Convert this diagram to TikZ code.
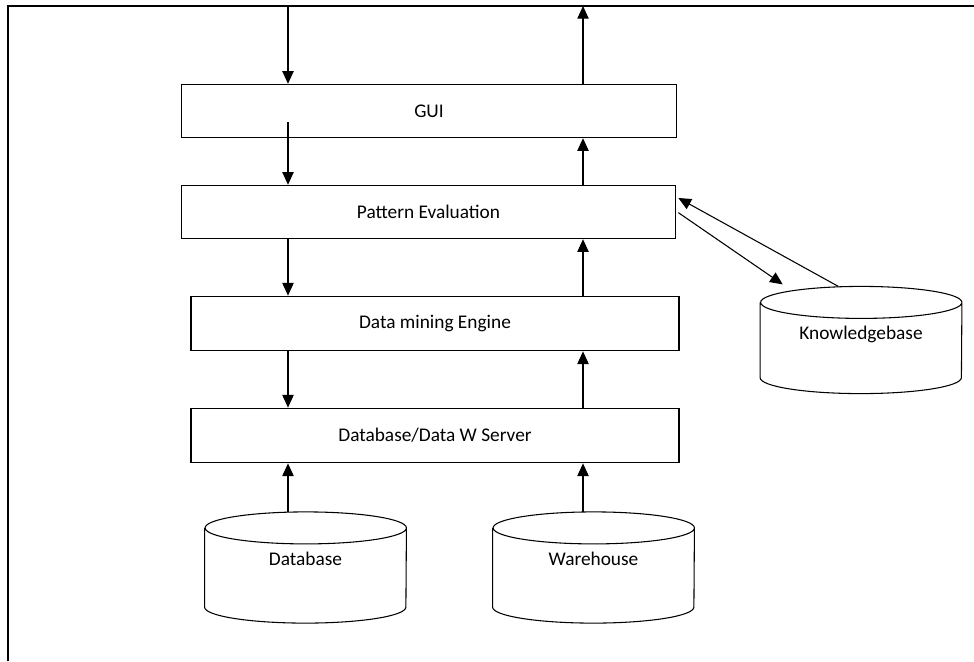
\documentclass[tikz,border=0pt]{standalone}
\usepackage{fontspec}
\setmainfont{Carlito}
\usepackage{tikz}
\usetikzlibrary{arrows.meta}

% outline of a drum drawn round a named store node
\newcommand{\drumline}[1]{%
  \draw[drum] ([yshift=-12pt]#1.north west) -- ([yshift=12pt]#1.south west)
    arc[start angle=180, end angle=360, x radius=75.5pt, y radius=12pt]
    -- ([yshift=-12pt]#1.north east)
    arc[start angle=0, end angle=360, x radius=75.5pt, y radius=12pt];}

\begin{document}
\begin{tikzpicture}[
  x=0.75pt, y=-0.75pt,
  font=\fontsize{14.5}{17}\selectfont,
  layer/.style={draw, line width=0.8pt, align=center, inner sep=0pt, minimum height=40pt},
  store/.style={inner sep=0pt, minimum width=151pt, minimum height=83pt, text height=9pt, text depth=12pt},
  drum/.style={line width=0.8pt},
  arr/.style={-{Triangle[length=9.5pt, width=8.5pt]}, line width=0.8pt},
  frame/.style={line width=1.4pt}]
\useasboundingbox (0,0) rectangle (974,661);
% --- frame ---
\draw[frame] (8,661) -- (8,6) -- (974,6);
\coordinate (fin) at (288,6);
\coordinate (fout) at (583,6);
\coordinate (gsrc) at (288,122);
% --- layers ---
\node[layer, minimum width=371pt] (gui) at (429,111) {GUI};
\node[layer, minimum width=370pt] (pat) at (428.5,212) {Pattern Evaluation};
\node[layer, minimum width=366pt, minimum height=41pt] (dme) at (435,323.5) {Data mining Engine};
\node[layer, minimum width=366pt, minimum height=41pt] (srv) at (435,435.5) {Database/Data W Server};
% --- stores ---
\node[store] (db) at (305.5,567.5) {Database};
\node[store] (wh) at (593.5,567.5) {Warehouse};
\node[store, minimum height=80pt, text depth=10pt] (kb) at (861,340) {Knowledgebase};
\drumline{db}
\drumline{wh}
\drumline{kb}
% --- down the left ---
\draw[arr] (fin) -- (fin |- gui.north);
\draw[arr] (gsrc) -- (gsrc |- pat.north);
\draw[arr] (pat.south -| fin) -- (fin |- dme.north);
\draw[arr] (dme.south -| fin) -- (fin |- srv.north);
% --- up the right ---
\draw[arr] (gui.north -| fout) -- (fout);
\draw[arr] (pat.north -| fout) -- (fout |- gui.south);
\draw[arr] (dme.north -| fout) -- (fout |- pat.south);
\draw[arr] (srv.north -| fout) -- (fout |- dme.south);
% --- sources ---
\draw[arr] (db.north -| fin) -- (fin |- srv.south);
\draw[arr] (wh.north -| fout) -- (fout |- srv.south);
% --- knowledgebase ---
\draw[arr] ([xshift=-17pt]kb.north) -- ([xshift=2pt, yshift=10.5pt]pat.east);
\draw[arr] ([xshift=2pt, yshift=-0.5pt]pat.east) -- ([xshift=17pt, yshift=1.5pt]kb.north west);
\end{tikzpicture}
\end{document}
